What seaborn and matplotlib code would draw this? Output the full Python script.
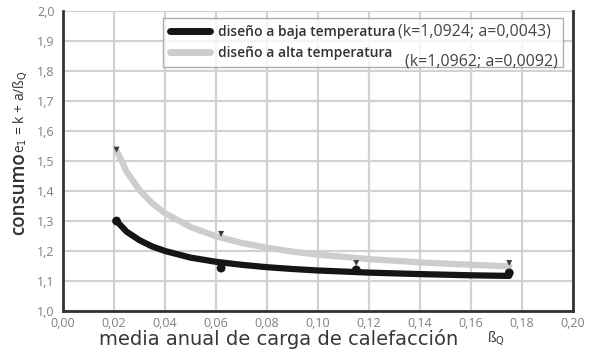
import matplotlib
matplotlib.use("Agg")
import matplotlib.pyplot as plt
import seaborn as sns
import pandas as pd
from matplotlib.lines import Line2D

# ---- data ----
beta_curve = [0.021, 0.025, 0.03, 0.035, 0.04, 0.05, 0.06, 0.07, 0.08, 0.09, 0.10, 0.12, 0.14, 0.16, 0.175]
low_curve = [1.300, 1.264, 1.236, 1.215, 1.200, 1.178, 1.164, 1.154, 1.146, 1.140, 1.135, 1.128, 1.123, 1.119, 1.117]
high_curve = [1.535, 1.464, 1.403, 1.359, 1.326, 1.280, 1.249, 1.227, 1.211, 1.198, 1.188, 1.173, 1.162, 1.154, 1.149]

beta_pts = [0.021, 0.062, 0.115, 0.175]
low_pts = [1.300, 1.143, 1.137, 1.127]
high_pts = [1.538, 1.257, 1.160, 1.160]

low_label = "diseño a baja temperatura"
high_label = "diseño a alta temperatura"
low_params = "(k=1,0924; a=0,0043)"
high_params = "(k=1,0962; a=0,0092)"

x_ticks = [0.00, 0.02, 0.04, 0.06, 0.08, 0.10, 0.12, 0.14, 0.16, 0.18, 0.20]
y_ticks = [1.0, 1.1, 1.2, 1.3, 1.4, 1.5, 1.6, 1.7, 1.8, 1.9, 2.0]

sns.set_theme(style="whitegrid")
plt.rcParams["font.family"] = ["Open Sans", "DejaVu Sans"]

fig = plt.figure(figsize=(5.9, 3.58), dpi=100)
ax = fig.add_axes([63 / 590, 1 - 311 / 358, 510 / 590, 300 / 358])
ax.set_facecolor("white")

df_low = pd.DataFrame({"beta": beta_curve, "e": low_curve})
df_high = pd.DataFrame({"beta": beta_curve, "e": high_curve})
sns.lineplot(data=df_high, x="beta", y="e", ax=ax, color="#cdcdcd", lw=4.5, sort=True,
             solid_capstyle="round", solid_joinstyle="round", zorder=3)
sns.lineplot(data=df_low, x="beta", y="e", ax=ax, color="#151515", lw=4.5, sort=True,
             solid_capstyle="round", solid_joinstyle="round", zorder=4)

pts_low = pd.DataFrame({"beta": beta_pts, "e": low_pts})
pts_high = pd.DataFrame({"beta": beta_pts, "e": high_pts})
sns.scatterplot(data=pts_low, x="beta", y="e", ax=ax, color="#151515", s=40,
                edgecolor="none", zorder=5)
sns.scatterplot(data=pts_high, x="beta", y="e", ax=ax, color="#3a3a3a", marker="v", s=18,
                edgecolor="none", zorder=5)

ax.set_xlim(0, 0.20)
ax.set_ylim(1.0, 2.0)
ax.set_xticks(x_ticks)
ax.set_yticks(y_ticks)
ax.set_xticklabels([f"{v:.2f}".replace(".", ",") for v in x_ticks])
ax.set_yticklabels([f"{v:.1f}".replace(".", ",") for v in y_ticks])
ax.tick_params(axis="both", labelsize=9, labelcolor="#808080", length=0, pad=6)
ax.tick_params(axis="x", pad=4)
ax.grid(True, color="#d2d2d2", lw=1.6)
ax.set_xlabel("")
ax.set_ylabel("")

for side in ["left", "bottom", "right"]:
    ax.spines[side].set_color("#333333")
    ax.spines[side].set_linewidth(2)
    ax.spines[side].set_visible(True)
ax.spines["top"].set_visible(False)

handles = [Line2D([], [], color="#151515", lw=5),
           Line2D([], [], color="#cdcdcd", lw=5)]
leg = ax.legend(handles, [low_label, high_label], loc="upper left",
                bbox_to_anchor=(0.196, 0.977, 0.784, 0.0), mode="expand",
                borderaxespad=0, fancybox=False, frameon=True, fontsize=10,
                handlelength=2.9, handletextpad=0.55, labelspacing=0.5,
                borderpad=0.5)
leg.get_frame().set_edgecolor("#9a9a9a")
leg.get_frame().set_linewidth(1.0)
for t in leg.get_texts():
    t.set_color("#333333")
    t.set_fontweight("semibold")
leg.set_zorder(6)

fig.text(398 / 590, 1 - 31 / 358, low_params, fontsize=11.5, color="#444444",
         ha="left", va="center", zorder=10)
fig.text(405 / 590, 1 - 61 / 358, high_params, fontsize=11.5, color="#444444",
         ha="left", va="center", zorder=10)

# axis labels
fig.text(99 / 590, 1 - 345 / 358, "media anual de carga de calefacción", fontsize=14,
         color="#383838", ha="left", va="baseline", family="DejaVu Sans")
fig.text(487 / 590, 1 - 338 / 358, "ß$_{\\mathrm{Q}}$", fontsize=10, color="#333333",
         ha="left", va="center")
fig.text(19 / 590, 1 - 194 / 358, "consumo", fontsize=13.5, color="#333333",
         rotation=90, ha="center", va="center", fontweight="semibold")
fig.text(20 / 590, 1 - 112 / 358, "e$_1$ = k + a/ß$_{\\mathrm{Q}}$", fontsize=10,
         color="#333333", rotation=90, ha="center", va="center")

fig.savefig("out.png", dpi=100)
